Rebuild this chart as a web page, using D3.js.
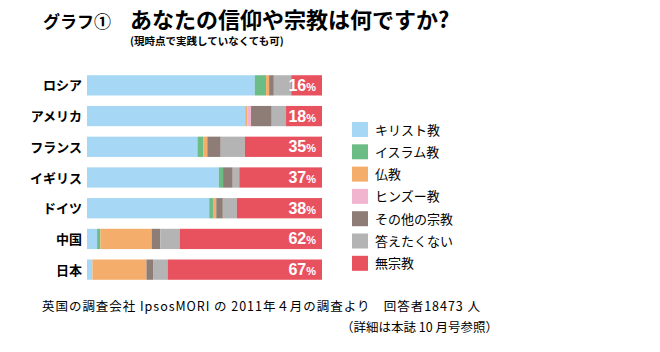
<!DOCTYPE html>
<html>
<head>
<meta charset="utf-8">
<script src="https://cdn.jsdelivr.net/npm/d3@7"></script>
<style>
  body { margin:0; background:#fff; }
  text { font-family: "Noto Sans CJK JP", sans-serif; }
</style>
</head>
<body>
<div id="canvas"></div>
<script>
// data (segment widths, in %)
var countries = ['ロシア','アメリカ','フランス','イギリス','ドイツ','中国','日本'];
var religions = ['キリスト教','イスラム教','仏教','ヒンズー教','その他の宗教','答えたくない','無宗教'];
var colors = ['#a6d8f5','#6cbd85','#f5ad6b','#f2b5d0','#8e7d76','#b4b4b4','#e8525f'];

var christian = [71.4, 67.3, 47, 56.1, 52, 4.3, 2.3];
var islam     = [4.8, 0, 2.6, 1.8, 1.6, 1.4, 0];
var buddhism  = [1.3, 0.9, 1.6, 0, 1.4, 21.8, 23];
var hindu     = [0, 1.6, 0, 0, 0, 0, 0];
var other     = [2, 8.8, 5.7, 4.1, 2.8, 3.7, 2.8];
var noAnswer  = [7.4, 6.1, 10.3, 2.8, 6, 8.2, 6.2];
var none      = [13.1, 15.3, 32.8, 35.2, 36.2, 60.6, 65.7];
var noneLabel = [16, 18, 35, 37, 38, 62, 67];

var W = 660, H = 352;

var svg = d3.select('#canvas').append('svg')
    .attr('width', W).attr('height', H);

// title
var title = svg.append('g');
title.append('text').attr('x', 43).attr('y', 28)
    .style('font-size','17px').style('font-weight','bold').text('グラフ①');
title.append('text').attr('x', 130).attr('y', 28)
    .style('font-size','22px').style('font-weight','bold').text('あなたの信仰や宗教は何ですか?');
title.append('text').attr('x', 130).attr('y', 45)
    .style('font-size','10.5px').style('font-weight','bold').text('(現時点で実践していなくても可)');

// table for stack
var table = countries.map(function(c, i){
    return {country:c, 0:christian[i], 1:islam[i], 2:buddhism[i], 3:hindu[i], 4:other[i], 5:noAnswer[i], 6:none[i]};
});
var series = d3.stack().keys(d3.range(7))(table);

var x = d3.scaleLinear().domain([0,100]).range([87, 322]);
var y = d3.scaleBand().domain(countries).range([70, 285]).paddingInner(0.34).paddingOuter(0.17);

var layers = svg.selectAll('.layer')
    .data(series)
    .enter().append('g')
    .attr('fill', function(d,i){ return colors[i]; });

layers.selectAll('rect')
    .data(function(d){ return d; })
    .enter().append('rect')
    .attr('x', function(d){ return x(d[0]); })
    .attr('width', function(d){ return x(d[1]) - x(d[0]); })
    .attr('y', function(d){ return y(d.data.country); })
    .attr('height', y.bandwidth());

// country labels
svg.selectAll('.clabel')
    .data(countries)
    .enter().append('text')
    .attr('x', 82)
    .attr('y', function(d){ return y(d) + y.bandwidth()/2 + 5; })
    .attr('text-anchor','end')
    .style('font-size','13px').style('font-weight','bold')
    .text(function(d){ return d; });

// percent labels
var pl = svg.selectAll('.plabel')
    .data(noneLabel)
    .enter().append('text')
    .attr('x', 316)
    .attr('y', function(d,i){ return y(countries[i]) + y.bandwidth()/2 + 5.5; })
    .attr('text-anchor','end')
    .attr('fill','#fff')
    .style('font-weight','bold')
    .style('font-family','Liberation Sans, Arial, sans-serif');
pl.append('tspan').style('font-size','16px').text(function(d){ return d; });
pl.append('tspan').style('font-size','11px').text('%');

// legend
var lg = svg.selectAll('.legend')
    .data(religions)
    .enter().append('g')
    .attr('transform', function(d,i){ return 'translate(352,' + (122 + i*22.3) + ')'; });
lg.append('rect').attr('width', 16).attr('height', 15)
    .attr('fill', function(d,i){ return colors[i]; });
lg.append('text').attr('x', 23).attr('y', 12.5)
    .style('font-size','13px')
    .text(function(d){ return d; });

// footer
svg.append('text').attr('x', 42).attr('y', 311)
    .style('font-size','12.5px')
    .attr('textLength', 438).attr('lengthAdjust','spacing')
    .text('英国の調査会社 IpsosMORI の 2011年４月の調査より　回答者18473 人');
svg.append('text').attr('x', 498).attr('y', 332)
    .attr('text-anchor','end')
    .style('font-size','12.5px')
    .text('（詳細は本誌 10 月号参照）');
</script>
</body>
</html>
